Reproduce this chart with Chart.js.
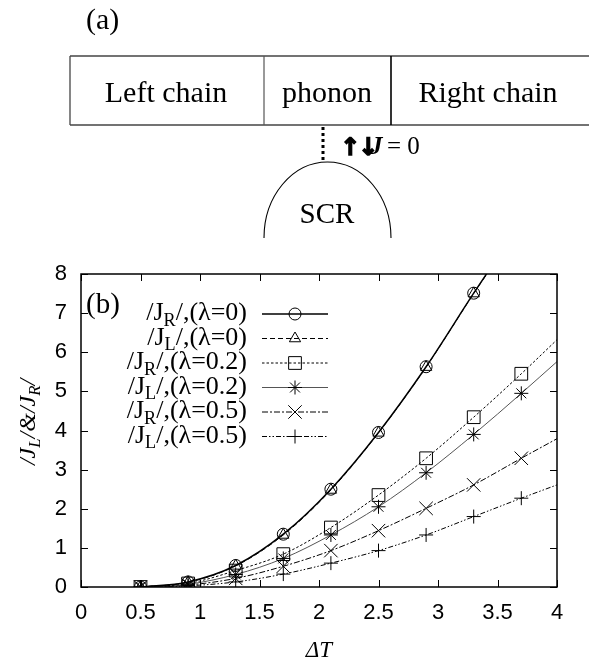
<!DOCTYPE html>
<html><head><meta charset="utf-8">
<script src="https://cdn.jsdelivr.net/npm/chart.js@4.4.1/dist/chart.umd.min.js"></script>
<style>
html,body{margin:0;padding:0;background:#fff;width:589px;height:665px;overflow:hidden}
#wrap{position:relative;width:589px;height:665px}
#c{position:absolute;left:0;top:0;width:589px;height:665px}
#diag{position:absolute;left:0;top:0}
#diag text{font-family:"Liberation Serif","Times New Roman",serif;fill:#000}
</style></head><body>
<div id="wrap">
<canvas id="c" width="589" height="665"></canvas>
<svg id="diag" width="589" height="250" viewBox="0 0 589 250">
  <text x="86" y="29" font-size="30">(a)</text>
  <line x1="70" y1="56" x2="589" y2="56" stroke="#444" stroke-width="1.3"/>
  <line x1="70" y1="125" x2="589" y2="125" stroke="#444" stroke-width="1.3"/>
  <line x1="70" y1="56" x2="70" y2="125" stroke="#444" stroke-width="1.3"/>
  <line x1="264" y1="56" x2="264" y2="125" stroke="#555" stroke-width="1.2"/>
  <line x1="391" y1="56" x2="391" y2="125" stroke="#000" stroke-width="1.6"/>
  <text x="166" y="102" font-size="30" text-anchor="middle">Left chain</text>
  <text x="327" y="102" font-size="30" text-anchor="middle">phonon</text>
  <text x="488" y="102" font-size="30" text-anchor="middle">Right chain</text>
  <line x1="323" y1="127" x2="323" y2="161" stroke="#000" stroke-width="3" stroke-dasharray="3,3"/>
  <text x="340" y="155" font-size="24" font-weight="bold" letter-spacing="-2" stroke="#000" stroke-width="1.3" style="font-family:'DejaVu Sans',sans-serif">↑↓</text>
  <text x="370" y="154" font-size="25" font-weight="bold" font-style="italic">J</text>
  <text x="387" y="154" font-size="25">= 0</text>
  <path d="M 264 238 A 63.5 76 0 0 1 391 238" fill="none" stroke="#000" stroke-width="1.1"/>
  <text x="327" y="223" font-size="29" text-anchor="middle">SCR</text>
</svg>
</div>
<script>
// ---- data ----
const deltaT   = [0.5, 0.9, 1.3, 1.7, 2.1, 2.5, 2.9, 3.3, 3.7];
const jR_l0    = [0, 0.13, 0.55, 1.35, 2.50, 3.95, 5.63, 7.51];
const jL_l0    = [0, 0.12, 0.54, 1.33, 2.48, 3.94, 5.62, 7.50];
const jR_l02   = [0, 0.09, 0.42, 0.84, 1.52, 2.35, 3.29, 4.34, 5.45];
const jL_l02   = [0, 0.07, 0.32, 0.73, 1.33, 2.05, 2.92, 3.90, 4.95];
const jR_l05   = [0, 0.05, 0.22, 0.53, 0.93, 1.44, 2.01, 2.61, 3.29];
const jL_l05   = [0, 0.03, 0.13, 0.33, 0.61, 0.93, 1.33, 1.80, 2.27];
// fitted curve continuation (read at the right/top edge)
const fitEndX  = [3.5, 3.5, 4, 4, 4, 4];
const fitEndY  = [8.42, 8.4, 6.32, 5.76, 3.79, 2.61];
const seriesLabels = [
  [['/J',0],['R',1],['/,(λ=0)',0]],
  [['/J',0],['L',1],['/,(λ=0)',0]],
  [['/J',0],['R',1],['/,(λ=0.2)',0]],
  [['/J',0],['L',1],['/,(λ=0.2)',0]],
  [['/J',0],['R',1],['/,(λ=0.5)',0]],
  [['/J',0],['L',1],['/,(λ=0.5)',0]]
];
const xTicks = [0, 0.5, 1, 1.5, 2, 2.5, 3, 3.5, 4];
const xTickLabels = ['0', '0.5', '1', '1.5', '2', '2.5', '3', '3.5', '4'];
const yTicks = [0, 1, 2, 3, 4, 5, 6, 7, 8];

const seriesVals = [jR_l0, jL_l0, jR_l02, jL_l02, jR_l05, jL_l05];
const styles = [
  {pointStyle:'circle',   radius:6,   dash:[],            width:1.5, color:'#000'},
  {pointStyle:'triangle', radius:6.5, dash:[5,3],         width:1,   color:'#000'},
  {pointStyle:'rect',     radius:9,   dash:[2.5,2],       width:1,   color:'#000'},
  {pointStyle:'star',     radius:7,   dash:[],            width:1,   color:'#555'},
  {pointStyle:'crossRot', radius:9.5, dash:[6,2,2,2],     width:1,   color:'#000'},
  {pointStyle:'cross',    radius:7,   dash:[5,2,1.5,2,1.5,2], width:1, color:'#000'}
];

const datasets = seriesVals.map((vals, i) => {
  const pts = vals.map((v, k) => ({x: deltaT[k], y: v}));
  pts.push({x: fitEndX[i], y: fitEndY[i]});
  const n = vals.length;
  const s = styles[i];
  return {
    label: 'series' + i,
    data: pts,
    borderColor: s.color,
    borderWidth: s.width,
    borderDash: s.dash,
    cubicInterpolationMode: 'monotone',
    pointStyle: s.pointStyle,
    pointRadius: ctx => ctx.dataIndex < n ? s.radius : 0,
    pointHoverRadius: 0,
    pointBorderColor: '#000',
    pointBackgroundColor: 'rgba(0,0,0,0)',
    pointBorderWidth: 1,
    fill: false
  };
});

const SERIF = '"Liberation Serif","Times New Roman",serif';

function richWidth(ctx, parts, size, italic) {
  let w = 0;
  parts.forEach(([t, sub]) => {
    ctx.font = (italic ? 'italic ' : '') + (sub ? size * 0.7 : size) + 'px ' + SERIF;
    w += ctx.measureText(t).width;
  });
  return w;
}
function drawRich(ctx, parts, x, y, size, italic) {
  let cx = x;
  parts.forEach(([t, sub]) => {
    ctx.font = (italic ? 'italic ' : '') + (sub ? size * 0.7 : size) + 'px ' + SERIF;
    ctx.fillText(t, cx, sub ? y + size * 0.22 : y);
    cx += ctx.measureText(t).width;
  });
}

const decor = {
  id: 'decor',
  afterDraw(chart) {
    const ctx = chart.ctx, a = chart.chartArea;
    const xs = chart.scales.x, ys = chart.scales.y;
    ctx.save();
    ctx.strokeStyle = '#000';
    ctx.lineWidth = 1.5;
    ctx.setLineDash([]);
    ctx.strokeRect(a.left, a.top, a.right - a.left, a.bottom - a.top);
    ctx.lineWidth = 1;
    const tl = 7;
    ctx.beginPath();
    xTicks.forEach(v => {
      const px = Math.round(xs.getPixelForValue(v)) + 0.5;
      ctx.moveTo(px, a.bottom); ctx.lineTo(px, a.bottom - tl);
      ctx.moveTo(px, a.top); ctx.lineTo(px, a.top + tl);
    });
    yTicks.forEach(v => {
      const py = Math.round(ys.getPixelForValue(v)) + 0.5;
      ctx.moveTo(a.left, py); ctx.lineTo(a.left + tl, py);
      ctx.moveTo(a.right, py); ctx.lineTo(a.right - tl, py);
    });
    ctx.stroke();

    ctx.fillStyle = '#000';
    ctx.textBaseline = 'alphabetic';
    ctx.textAlign = 'left';
    // panel label
    ctx.font = '29px ' + SERIF;
    ctx.fillText('(b)', 86, 313);
    // legend
    const size = 26;
    seriesLabels.forEach((parts, i) => {
      const base = 320 + i * 24.5;
      const w = richWidth(ctx, parts, size, false);
      ctx.fillStyle = '#000';
      drawRich(ctx, parts, 247 - w, base, size, false);
      const s = styles[i];
      const ly = base - 6;
      ctx.strokeStyle = s.color;
      ctx.lineWidth = s.width;
      ctx.setLineDash(s.dash);
      ctx.beginPath(); ctx.moveTo(262, ly); ctx.lineTo(328, ly); ctx.stroke();
      ctx.setLineDash([]);
      ctx.strokeStyle = '#000';
      ctx.fillStyle = 'rgba(0,0,0,0)';
      ctx.lineWidth = 1;
      Chart.helpers.drawPoint(ctx, {pointStyle: s.pointStyle, radius: s.radius, rotation: 0, borderWidth: 1}, 295, ly);
    });
    // axis titles
    ctx.fillStyle = '#000';
    ctx.font = 'italic 23px ' + SERIF;
    ctx.textAlign = 'center';
    ctx.fillText('ΔT', (a.left + a.right) / 2, 657);
    ctx.textAlign = 'left';
    const yt = [['/J',0],['L',1],['/&/J',0],['R',1],['/',0]];
    ctx.translate(28, 422);
    ctx.rotate(-Math.PI / 2);
    const tw = richWidth(ctx, yt, 24, true);
    drawRich(ctx, yt, -tw / 2, 7, 24, true);
    ctx.restore();
  }
};

new Chart(document.getElementById('c'), {
  type: 'line',
  data: { datasets },
  options: {
    responsive: false,
    animation: false,
    events: [],
    layout: { padding: { top: 274, right: 32, left: 0, bottom: 0 } },
    plugins: { legend: { display: false }, tooltip: { enabled: false } },
    scales: {
      x: {
        type: 'linear', min: 0, max: 4,
        afterFit: s => { s.height = 78; },
        afterBuildTicks: s => { s.ticks = xTicks.map(v => ({value: v})); },
        grid: { display: false, drawTicks: false },
        border: { display: false },
        ticks: {
          color: '#000', padding: 13, maxRotation: 0,
          callback: (v) => xTickLabels[xTicks.indexOf(v)] ?? String(v),
          font: { family: '"Liberation Sans",Arial,sans-serif', size: 22 }
        }
      },
      y: {
        type: 'linear', min: 0, max: 8,
        afterFit: s => { s.width = 81; },
        afterBuildTicks: s => { s.ticks = yTicks.map(v => ({value: v})); },
        grid: { display: false, drawTicks: false },
        border: { display: false },
        ticks: { color: '#000', padding: 14, font: { family: '"Liberation Sans",Arial,sans-serif', size: 22 } }
      }
    }
  },
  plugins: [decor]
});
</script>
</body></html>
